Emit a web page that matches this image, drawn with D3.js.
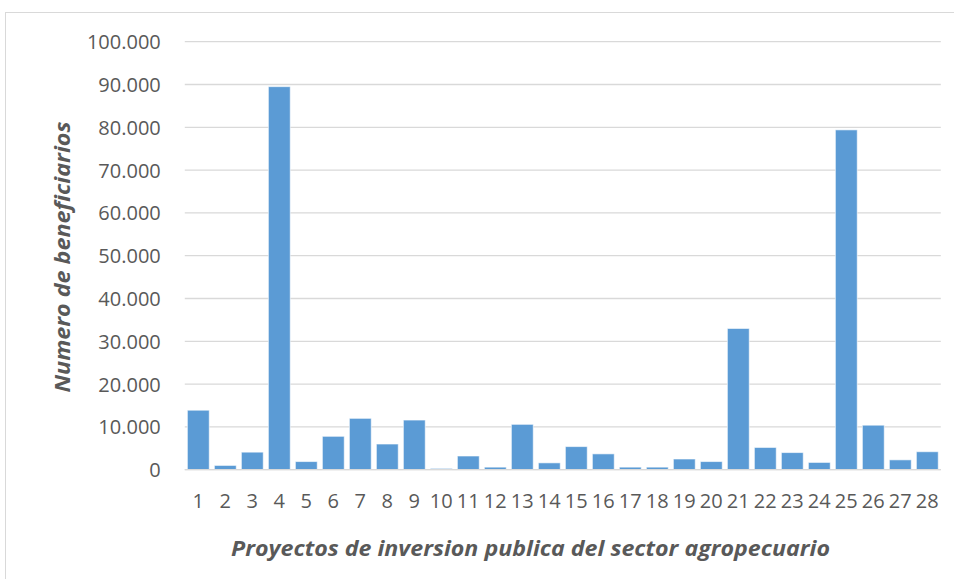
<!DOCTYPE html>
<html>
<head>
<meta charset="utf-8">
<script src="https://cdn.jsdelivr.net/npm/d3@7"></script>
<style>
  html, body { margin: 0; padding: 0; background: #fff; }
  svg { display: block; }
</style>
</head>
<body>
<svg id="chart" width="954" height="579"></svg>
<script>
// Beneficiaries per agricultural public investment project
const projects = d3.range(1, 29).map(String);
const beneficiaries = [
  13900, 1000, 4100, 89500, 1900, 7800, 12000, 6000, 11600, 300,
  3200, 600, 10600, 1600, 5400, 3700, 600, 600, 2500, 1900,
  33000, 5200, 4000, 1700, 79400, 10400, 2300, 4200
];
const yTicks = [0, 10000, 20000, 30000, 40000, 50000, 60000, 70000, 80000, 90000, 100000];
const yTitle = "Numero de beneficiarios";
const xTitle = "Proyectos de inversion publica del sector agropecuario";

const svg = d3.select("#chart");
const W = 954, H = 579;
const plot = { left: 184.8, right: 940.8, top: 41.7, bottom: 469.7 };
const textColor = "#595959";
const font = "'Open Sans', 'Liberation Sans', sans-serif";

// chart frame
svg.append("rect")
  .attr("x", 5.5).attr("y", 12.5)
  .attr("width", W + 20).attr("height", H + 20)
  .attr("fill", "#fff").attr("stroke", "#d9d9d9").attr("stroke-width", 1);

const x = d3.scaleBand()
  .domain(projects)
  .range([plot.left, plot.right])
  .paddingInner(0.19)
  .paddingOuter(0.095);

const y = d3.scaleLinear()
  .domain([0, 100000])
  .range([plot.bottom, plot.top]);

const fmt = v => d3.format(",")(v).replace(/,/g, ".");

// gridlines
svg.append("g")
  .selectAll("line")
  .data(yTicks)
  .join("line")
  .attr("x1", plot.left).attr("x2", plot.right)
  .attr("y1", d => y(d)).attr("y2", d => y(d))
  .attr("stroke", "#d9d9d9").attr("stroke-width", 1.3);

// y axis labels
const yAxis = svg.append("g")
  .attr("transform", `translate(${plot.left - 24},0)`)
  .call(d3.axisLeft(y).tickValues(yTicks).tickFormat(fmt).tickSize(0).tickPadding(0));
yAxis.select(".domain").remove();
yAxis.selectAll("text")
  .attr("fill", textColor)
  .style("font-family", font)
  .style("font-size", "20px")
  .attr("dy", "0.35em");

// bars
svg.append("g")
  .selectAll("rect")
  .data(beneficiaries)
  .join("rect")
  .attr("x", (d, i) => x(projects[i]))
  .attr("width", x.bandwidth())
  .attr("y", d => y(d))
  .attr("height", d => y(0) - y(d))
  .attr("fill", "#5b9bd5")
  .attr("stroke", "#ffffff")
  .attr("stroke-opacity", 0.6)
  .attr("stroke-width", 1);

// x axis baseline
svg.append("line")
  .attr("x1", plot.left).attr("x2", plot.right)
  .attr("y1", y(0)).attr("y2", y(0))
  .attr("stroke", "#d9d9d9").attr("stroke-width", 1.3);

// x axis labels
const xAxis = svg.append("g")
  .attr("transform", `translate(0,${plot.bottom})`)
  .call(d3.axisBottom(x).tickSize(0).tickPadding(0));
xAxis.select(".domain").remove();
xAxis.selectAll("text")
  .attr("fill", textColor)
  .attr("y", 38)
  .attr("dy", null)
  .style("font-family", font)
  .style("font-size", "20px");

// axis titles
svg.append("text")
  .attr("transform", `translate(70,257) rotate(-90)`)
  .attr("text-anchor", "middle")
  .attr("fill", textColor)
  .style("font-family", font)
  .style("font-size", "21px")
  .style("font-weight", "bold")
  .style("font-style", "italic")
  .attr("textLength", 271)
  .attr("lengthAdjust", "spacingAndGlyphs")
  .text(yTitle);

svg.append("text")
  .attr("x", 530.5).attr("y", 556)
  .attr("text-anchor", "middle")
  .attr("fill", textColor)
  .style("font-family", font)
  .style("font-size", "21px")
  .style("font-weight", "bold")
  .style("font-style", "italic")
  .attr("textLength", 599)
  .attr("lengthAdjust", "spacingAndGlyphs")
  .text(xTitle);
</script>
</body>
</html>
